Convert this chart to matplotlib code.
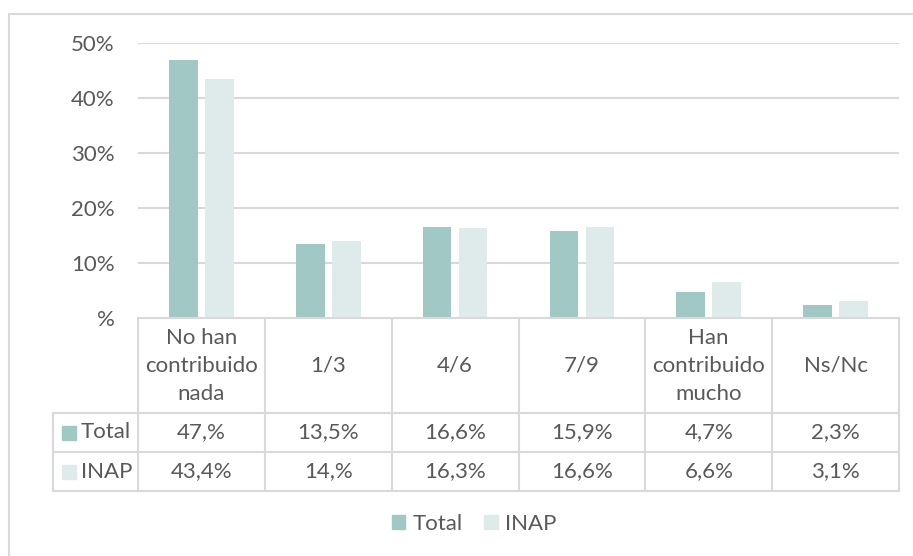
import numpy as np
import matplotlib.pyplot as plt
from matplotlib.patches import Rectangle

plt.rcParams['font.family'] = ['Lato', 'DejaVu Sans']

categories = ['No han\ncontribuido\nnada', '1/3', '4/6', '7/9', 'Han\ncontribuido\nmucho', 'Ns/Nc']
series_names = ['Total', 'INAP']
total = [47.0, 13.5, 16.6, 15.9, 4.7, 2.3]
inap = [43.4, 14.0, 16.3, 16.6, 6.6, 3.1]
y_ticks = [0, 10, 20, 30, 40, 50]
y_tick_labels = ['%', '10%', '20%', '30%', '40%', '50%']

c_total = '#a2c8c5'
c_inap = '#dfebeb'
grid_c = '#d9d9d9'
text_c = '#595959'
fs = 16

W, H = 913, 556
fig = plt.figure(figsize=(W / 100, H / 100), dpi=100)


def fig_rect(x0, y0, x1, y1):
    # pixel box (top-left origin) -> figure fraction
    return [x0 / W, 1 - y1 / H, (x1 - x0) / W, (y1 - y0) / H]


# outer chart frame (runs off right/bottom edge)
fig.patches.append(Rectangle((8.5 / W, -0.1), 2, 1.1 - 13.5 / H,
                             transform=fig.transFigure, fill=False,
                             edgecolor=grid_c, linewidth=1.5))

# bars
ax = fig.add_axes(fig_rect(138, 43, 899, 318))
x = np.arange(len(categories)) + 0.5
w = 0.225
ax.bar(x - 0.142, total, w, color=c_total)
ax.bar(x + 0.142, inap, w, color=c_inap)
ax.set_xlim(0, len(categories))
ax.set_ylim(0, 50)
for t in y_ticks[1:]:
    ax.axhline(t, color=grid_c, linewidth=1.5, zorder=0)
ax.set_yticks(y_ticks)
ax.set_yticklabels(y_tick_labels, fontsize=fs, color=text_c)
ax.tick_params(axis='y', length=0, pad=17)
ax.set_xticks([])
for s in ax.spines.values():
    s.set_visible(False)
ax.patch.set_alpha(0)

# data table below the bars
left = (53 - 138) / ((899 - 138) / len(categories))
tb = fig.add_axes(fig_rect(53, 318, 899, 491))
tb.set_xlim(left, len(categories))
tb.set_ylim(173, 0)
tb.axis('off')
n = len(categories)
lw = 1.5
tb.plot([0, n], [0, 0], color=grid_c, lw=lw, clip_on=False)
for yy in [95, 134, 173]:
    tb.plot([left, n], [yy, yy], color=grid_c, lw=lw, clip_on=False)
for i in range(n + 1):
    tb.plot([i, i], [0, 173], color=grid_c, lw=lw, clip_on=False)
tb.plot([left, left], [95, 173], color=grid_c, lw=lw, clip_on=False)


def fmt(v):
    s = ('%.1f' % v).replace('.', ',')
    if s.endswith(',0'):
        s = s[:-1]
    return s + '%'


for i, c in enumerate(categories):
    tb.text(i + 0.5, 47.5, c, ha='center', va='center', fontsize=fs,
            color=text_c, linespacing=1.5)
rows = [(total, 114.5, c_total), (inap, 153.5, c_inap)]
for (vals, yc, col), name in zip(rows, series_names):
    for i, v in enumerate(vals):
        tb.text(i + 0.5, yc, fmt(v), ha='center', va='center', fontsize=fs, color=text_c)
    tb.add_patch(Rectangle((left + 0.07, yc - 7), 0.11, 14, color=col, clip_on=False))
    tb.text(left + 0.22, yc, name, ha='left', va='center', fontsize=fs, color=text_c)

# legend
fig.legend(handles=[Rectangle((0, 0), 1, 1, color=c_total), Rectangle((0, 0), 1, 1, color=c_inap)],
           labels=series_names, loc='center', bbox_to_anchor=(474 / W, 1 - 524 / H),
           ncol=2, frameon=False, fontsize=fs, labelcolor=text_c,
           handlelength=0.62, handleheight=0.62, handletextpad=0.3, columnspacing=1.0)

fig.savefig('out.png', dpi=100)
